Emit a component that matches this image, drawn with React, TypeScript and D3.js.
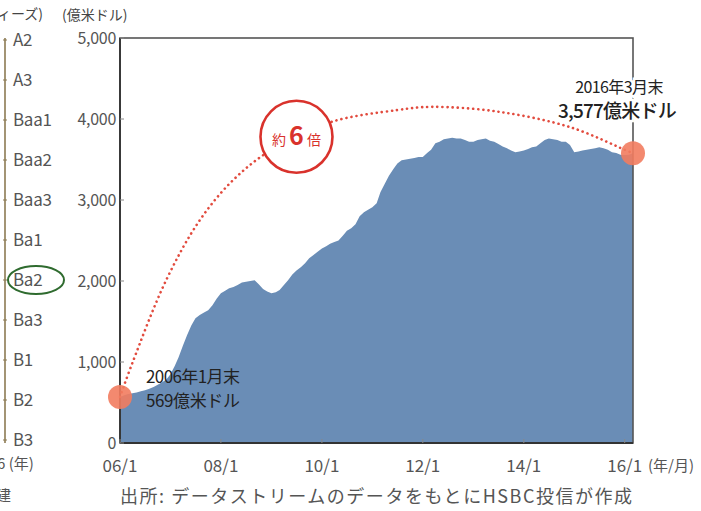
import React from 'react'
import * as d3 from 'd3'

// monthly balance, 2006/1 - 2016/3 (億米ドル)
const values2006 = [569, 590, 605, 615, 625, 640, 650, 670, 690, 720, 750, 780]
const values2007 = [850, 950, 1060, 1200, 1330, 1450, 1540, 1580, 1610, 1640, 1700, 1780]
const values2008 = [1850, 1880, 1910, 1925, 1950, 1980, 1990, 2000, 2010, 1960, 1900, 1870]
const values2009 = [1850, 1860, 1890, 1950, 2010, 2080, 2130, 2170, 2220, 2280, 2320, 2360]
const values2010 = [2400, 2430, 2460, 2480, 2500, 2560, 2620, 2650, 2700, 2800, 2850, 2880]
const values2011 = [2910, 2960, 3100, 3200, 3300, 3380, 3450, 3490, 3500, 3510, 3520, 3530]
const values2012 = [3530, 3580, 3620, 3700, 3720, 3750, 3760, 3770, 3760, 3760, 3740, 3720]
const values2013 = [3720, 3740, 3750, 3760, 3730, 3720, 3690, 3660, 3640, 3610, 3590, 3600]
const values2014 = [3610, 3630, 3650, 3660, 3700, 3740, 3760, 3750, 3740, 3720, 3720, 3680]
const values2015 = [3590, 3600, 3610, 3620, 3630, 3640, 3650, 3640, 3620, 3590, 3580, 3560]
const values2016 = [3555, 3560, 3577]

const yTicks = [0, 1000, 2000, 3000, 4000, 5000]
const xTickYears = [2006, 2008, 2010, 2012, 2014, 2016]
const xTickLabels = ['06/1', '08/1', '10/1', '12/1', '14/1', '16/1']
const ratings = ['A2', 'A3', 'Baa1', 'Baa2', 'Baa3', 'Ba1', 'Ba2', 'Ba3', 'B1', 'B2', 'B3']

// rough path of the dotted "約6倍" arc, in [year, month, value]
const arcPoints: [number, number, number][] = [
    [2006, 0, 569], [2006, 3, 990], [2006, 11, 2010], [2007, 7, 2750], [2008, 3, 3250],
    [2009, 0, 3620], [2010, 2, 3960], [2011, 6, 4110], [2012, 2, 4150], [2013, 6, 4090],
    [2014, 11, 3900], [2016, 0, 3620], [2016, 2, 3577],
]

const FONT = '"Noto Sans CJK JP", "Noto Sans", sans-serif'

export default function App() {
    const all = [...values2006, ...values2007, ...values2008, ...values2009, ...values2010,
        ...values2011, ...values2012, ...values2013, ...values2014, ...values2015, ...values2016]
    const data = all.map((v, i) => ({ date: new Date(2006, i, 1), value: v }))

    const x = d3.scaleTime().domain([new Date(2006, 0, 1), new Date(2016, 2, 1)]).range([120, 633])
    const y = d3.scaleLinear().domain([0, 5000]).range([443, 38])

    const area = d3.area<{ date: Date, value: number }>()
        .x(d => x(d.date)).y0(y(0)).y1(d => y(d.value))

    const arcLine = d3.line<[number, number, number]>()
        .x(d => x(new Date(d[0], d[1], 1))).y(d => y(d[2]))
        .curve(d3.curveCatmullRom)

    const first = data[0]
    const last = data[data.length - 1]
    const circ = { x: x(new Date(2009, 6, 1)), y: y(3780) }
    const ratingY = d3.scalePoint().domain(ratings).range([y(5000) + 2, y(0) - 3])

    return (
        <svg width={701} height={511} style={{ position: 'absolute', left: 0, top: 0, background: '#fff' }}
            fontFamily={FONT}>
            {/* left rating panel, cut off */}
            <text x={-3} y={19} fontSize={14} fill="#444">ィーズ)</text>
            <line x1={5} x2={5} y1={y(5000)} y2={y(0)} stroke="#8c7a52" strokeWidth={1.6} />
            {ratings.map(r => (
                <g key={r}>
                    <line x1={3} x2={7} y1={ratingY(r)} y2={ratingY(r)} stroke="#8c7a52" />
                    <text x={13} y={(ratingY(r) as number) + 6} fontSize={17} fill="#555" letterSpacing={-0.3}>{r}</text>
                </g>
            ))}
            <ellipse cx={36} cy={ratingY('Ba2')} rx={28} ry={14} fill="none" stroke="#2f6b2f" strokeWidth={2} />
            <text x={-3} y={469} fontSize={15} fill="#555">6 (年)</text>
            <text x={-4} y={501} fontSize={15} fill="#555">建</text>

            {/* area */}
            <path d={area(data) || ''} fill="#6a8db6" />

            {/* frame */}
            <rect x={120} y={y(5000)} width={633 - 120} height={y(0) - y(5000)} fill="none" stroke="#555" strokeWidth={1.6} />
            <line x1={120} x2={120} y1={y(5000)} y2={y(0)} stroke="#333" strokeWidth={1.8} />
            <line x1={120} x2={633} y1={y(0)} y2={y(0)} stroke="#333" strokeWidth={1.8} />

            {/* y axis */}
            <text x={62} y={20} fontSize={14} fill="#444">(億米ドル)</text>
            {yTicks.map(t => (
                <g key={t}>
                    <line x1={120} x2={124} y1={y(t)} y2={y(t)} stroke="#888" />
                    <text x={116} y={y(t) + 6} fontSize={16} fill="#555" textAnchor="end" letterSpacing={-0.3}>
                        {d3.format(',')(t)}
                    </text>
                </g>
            ))}

            {/* x axis */}
            {xTickYears.map((yr, i) => (
                <g key={yr}>
                    <line x1={x(new Date(yr, 0, 1))} x2={x(new Date(yr, 0, 1))} y1={y(0)} y2={y(0) - 4} stroke="#888" />
                    <text x={x(new Date(yr, 0, 1))} y={472} fontSize={17} fill="#555" textAnchor="middle">
                        {xTickLabels[i]}
                    </text>
                </g>
            ))}
            <text x={648} y={471} fontSize={15} fill="#555">(年/月)</text>

            {/* dotted arc */}
            <path d={arcLine(arcPoints) || ''} fill="none" stroke="#e24b3e" strokeWidth={2.6}
                strokeDasharray="0.1 5" strokeLinecap="round" />

            {/* circle label */}
            <circle cx={circ.x} cy={circ.y} r={36} fill="#fff" stroke="#d9322c" strokeWidth={2.6} />
            <text x={circ.x} y={circ.y + 8} textAnchor="middle" fill="#d9322c">
                <tspan fontSize={14}>約 </tspan>
                <tspan fontSize={25} fontWeight="bold">6</tspan>
                <tspan fontSize={14}> 倍</tspan>
            </text>

            {/* endpoint markers */}
            <circle cx={x(first.date)} cy={y(first.value)} r={12} fill="#f27c5f" opacity={0.9} />
            <circle cx={x(last.date)} cy={y(last.value)} r={12} fill="#f27c5f" opacity={0.9} />

            {/* annotations */}
            <text x={146} y={383} fontSize={17} fill="#222" letterSpacing={-0.6}>2006年1月末</text>
            <text x={146} y={407} fontSize={17} fill="#222" letterSpacing={-0.4}>569億米ドル</text>
            <g stroke="#fff" strokeWidth={5} style={{ paintOrder: 'stroke' }}>
                <text x={619} y={93} fontSize={16} fill="#222" textAnchor="middle" letterSpacing={-0.6}>2016年3月末</text>
                <text x={617} y={118} fontSize={19} fill="#222" fontWeight={500} textAnchor="middle" letterSpacing={-0.8}>3,577億米ドル</text>
            </g>

            {/* source */}
            <text x={120} y={503} fontSize={18} fill="#555" textLength={512} lengthAdjust="spacing">
                出所: データストリームのデータをもとにHSBC投信が作成
            </text>
        </svg>
    )
}
